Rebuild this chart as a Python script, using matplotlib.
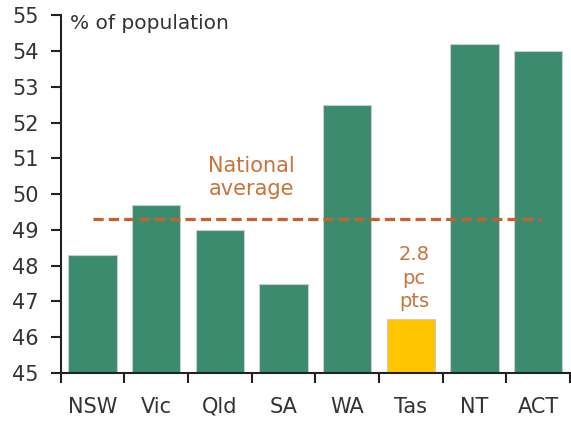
import matplotlib
matplotlib.use("Agg")
import matplotlib.pyplot as plt
import numpy as np

states = ["NSW", "Vic", "Qld", "SA", "WA", "Tas", "NT", "ACT"]
values = [48.3, 49.7, 49.0, 47.5, 52.5, 46.5, 54.2, 54.0]
national_average = 49.3
highlight = "Tas"
yticks = list(range(45, 56))

green = "#3B8C6E"
yellow = "#FFC600"
orange = "#C8602A"
text_orange = "#C8733A"
tick_col = "#333333"

plt.rcParams['font.family'] = ['DejaVu Sans']

fig = plt.figure(figsize=(5.71, 4.21), dpi=100)
ax = fig.add_axes([0.1063, 0.114, 0.8917, 0.850])

x = np.arange(len(states))
colors = [yellow if s == highlight else green for s in states]
ax.bar(x, values, width=0.76, bottom=0, color=colors, edgecolor="#cccccc", linewidth=0.8, zorder=2)

ax.plot([0, 7.05], [national_average, national_average], color=orange, lw=2.3,
        dashes=(3.2, 1.6), clip_on=False, zorder=3)

ax.text(2.5, 50.46, "National\naverage", ha="center", va="center", color=text_orange,
        fontsize=15, linespacing=1.2)
ax.text(5.05, 47.65, "2.8\npc\npts", ha="center", va="center", color=text_orange,
        fontsize=14, linespacing=1.3)
ax.text(-0.35, 54.78, "% of population", ha="left", va="center", color=tick_col,
        fontsize=14.5)

ax.set_xlim(-0.5, 7.5)
ax.set_ylim(45, 55)
ax.set_yticks(yticks)
ax.set_yticklabels([str(t) for t in yticks])
ax.set_xticks(x)
ax.set_xticklabels(states)
ax.set_xticks(np.arange(-0.5, 8.0, 1.0), minor=True)

ax.tick_params(axis="x", which="major", length=0, pad=17, labelsize=15, labelcolor=tick_col)
ax.tick_params(axis="x", which="minor", length=7, width=1.5, direction="out", color="#222222")
ax.tick_params(axis="y", which="major", length=7, width=1.5, direction="out", labelsize=15,
               labelcolor=tick_col, color="#222222", pad=9)

for s in ["top", "right"]:
    ax.spines[s].set_visible(False)
for s in ["left", "bottom"]:
    ax.spines[s].set_linewidth(1.5)
    ax.spines[s].set_color("#222222")

fig.savefig("out.png", dpi=100)
